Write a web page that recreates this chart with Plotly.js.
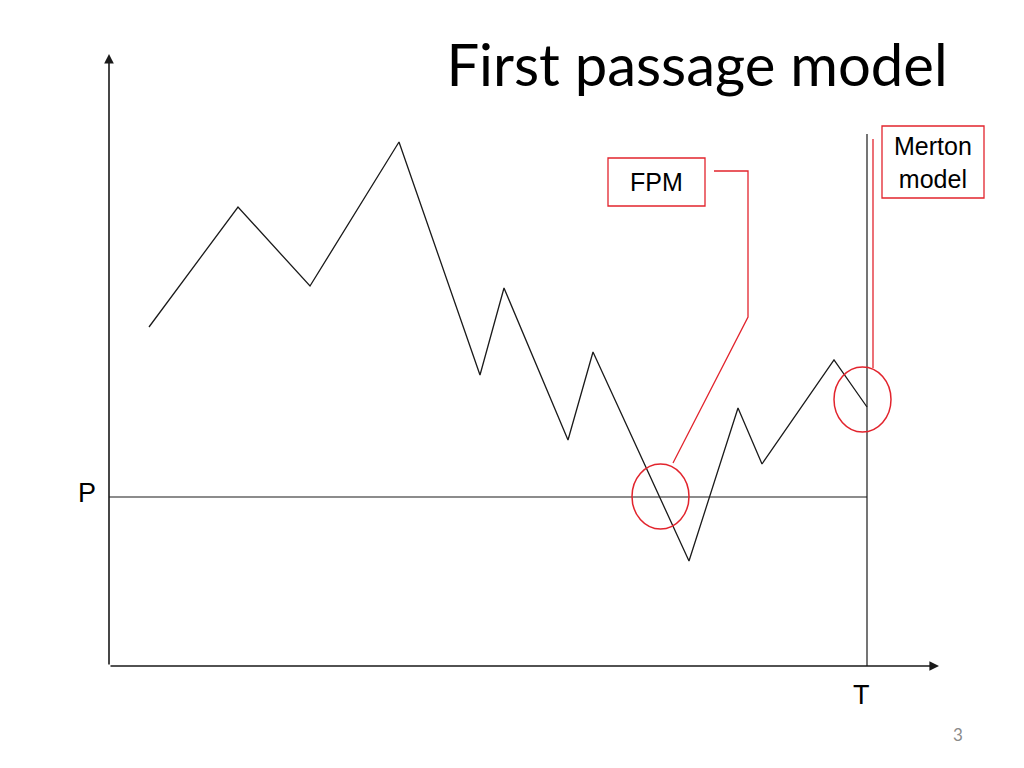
<!DOCTYPE html>
<html>
<head>
<meta charset="utf-8">
<script src="https://cdn.plot.ly/plotly-3.0.1.min.js"></script>
<style>html,body{margin:0;padding:0;background:#fff;}#chart{width:1024px;height:768px;}</style>
</head>
<body>
<div id="chart"></div>
<script>
// Asset value path (time, value), origin at the axes corner
var pathTime  = [40, 129, 201, 290, 371, 395, 459, 484, 580, 629, 653, 725, 758];
var pathValue = [339, 459, 380, 524, 291, 378, 226, 314, 105, 258, 202, 306, 259];

// Barrier level P and maturity T
var barrierLevel = 169;
var maturityT = 758;
var maturityLineTop = 532;

// Axis extents
var xAxisEnd = 830;
var yAxisEnd = 612;

// Callout labels
var fpmLabel = "FPM";
var mertonLabel = "Merton<br>model";
var fpmBox = [499, 596, 460, 508];      // t0, t1, v0, v1
var mertonBox = [773, 875, 468, 540];
var fpmCircle = [523, 580, 137, 202];
var mertonCircle = [725, 782, 234, 299];
var fpmConnectorT = [605, 639, 639, 564];
var fpmConnectorV = [495, 495, 349, 203];
var mertonConnectorT = [764, 764];
var mertonConnectorV = [527, 298];

var RED = "#e2242d";
var INK = "#1a1a1a";

var traces = [
  {x: pathTime, y: pathValue, mode: "lines", line: {color: INK, width: 1.3}, hoverinfo: "skip"},
  {x: [0, maturityT], y: [barrierLevel, barrierLevel], mode: "lines", line: {color: INK, width: 1.2}, hoverinfo: "skip"},
  {x: [maturityT, maturityT], y: [0, maturityLineTop], mode: "lines", line: {color: INK, width: 1.2}, hoverinfo: "skip"},
  {x: fpmConnectorT, y: fpmConnectorV, mode: "lines", line: {color: RED, width: 1.3}, hoverinfo: "skip"},
  {x: mertonConnectorT, y: mertonConnectorV, mode: "lines", line: {color: RED, width: 1.3}, hoverinfo: "skip"}
];

var shapes = [
  {type: "rect", xref: "x", yref: "y", x0: fpmBox[0], x1: fpmBox[1], y0: fpmBox[2], y1: fpmBox[3], line: {color: RED, width: 1.3}},
  {type: "rect", xref: "x", yref: "y", x0: mertonBox[0], x1: mertonBox[1], y0: mertonBox[2], y1: mertonBox[3], line: {color: RED, width: 1.3}},
  {type: "circle", xref: "x", yref: "y", x0: fpmCircle[0], x1: fpmCircle[1], y0: fpmCircle[2], y1: fpmCircle[3], line: {color: RED, width: 1.5}},
  {type: "circle", xref: "x", yref: "y", x0: mertonCircle[0], x1: mertonCircle[1], y0: mertonCircle[2], y1: mertonCircle[3], line: {color: RED, width: 1.5}}
];

var arial = "Liberation Sans, Arial, sans-serif";
var annotations = [
  // axes with arrowheads
  {x: 0, y: yAxisEnd, ax: 0, ay: 0, xref: "x", yref: "y", axref: "x", ayref: "y", text: "", showarrow: true,
   arrowhead: 2, arrowsize: 1.2, arrowwidth: 1.6, arrowcolor: INK},
  {x: xAxisEnd, y: 0, ax: 0, ay: 0, xref: "x", yref: "y", axref: "x", ayref: "y", text: "", showarrow: true,
   arrowhead: 2, arrowsize: 1.2, arrowwidth: 1.6, arrowcolor: INK},
  {x: -22, y: barrierLevel + 4, xref: "x", yref: "y", xanchor: "center", yanchor: "middle", text: "P", showarrow: false,
   font: {family: arial, size: 27, color: "#000"}},
  {x: maturityT - 6, y: -29, xref: "x", yref: "y", xanchor: "center", yanchor: "middle", text: "T", showarrow: false,
   font: {family: arial, size: 27, color: "#000"}},
  {x: (fpmBox[0] + fpmBox[1]) / 2, y: (fpmBox[2] + fpmBox[3]) / 2, xref: "x", yref: "y", xanchor: "center", yanchor: "middle",
   text: fpmLabel, showarrow: false, font: {family: arial, size: 25, color: "#000"}},
  {x: (mertonBox[0] + mertonBox[1]) / 2, y: (mertonBox[2] + mertonBox[3]) / 2, xref: "x", yref: "y", xanchor: "center", yanchor: "middle",
   text: mertonLabel, showarrow: false, font: {family: arial, size: 25, color: "#000"}},
  {x: 958 / 1024, y: 1 - 734 / 768, xref: "paper", yref: "paper", xanchor: "center", yanchor: "middle", text: "3", showarrow: false,
   font: {family: "Lato, sans-serif", size: 17, color: "#8a8a8a"}}
];

var layout = {
  width: 1024, height: 768,
  margin: {l: 0, r: 0, t: 0, b: 0, pad: 0},
  paper_bgcolor: "#fff", plot_bgcolor: "#fff",
  showlegend: false,
  title: {text: "First passage model", x: 697 / 1024, xanchor: "center", xref: "paper",
          y: 1 - 66 / 768, yref: "paper", yanchor: "middle",
          font: {family: "Lato, sans-serif", size: 58, color: "#000"}},
  xaxis: {range: [-109, 915], visible: false, fixedrange: true},
  yaxis: {range: [-102, 666], visible: false, fixedrange: true},
  shapes: shapes,
  annotations: annotations
};

Plotly.newPlot("chart", traces, layout, {staticPlot: true, displayModeBar: false});
</script>
</body>
</html>
